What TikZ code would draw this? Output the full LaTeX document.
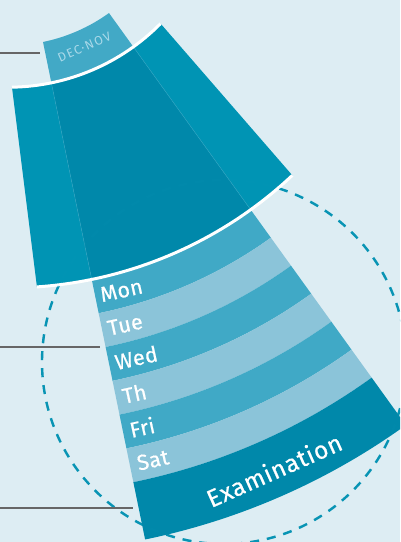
\documentclass[tikz,border=0pt]{standalone}
\usepackage{fontspec}
\setmainfont{Fira Sans}
\definecolor{bgc}{HTML}{DDEDF3}
\definecolor{fanside}{HTML}{0094B4}
\definecolor{fanmid}{HTML}{0088AA}
\definecolor{seam}{HTML}{2BA2C0}
\definecolor{bandmid}{HTML}{40A9C6}
\definecolor{bandlight}{HTML}{8BC4D9}
\definecolor{bandexam}{HTML}{0088AA}
\definecolor{tabc}{HTML}{42A9C6}
\definecolor{tabtext}{HTML}{A9D9E9}
\definecolor{dashc}{HTML}{0894B4}
\definecolor{greyc}{HTML}{666666}
\newcommand\annsector[4]{(-#1:#3pt) arc[start angle=-#1,end angle=-#2,radius=#3pt] -- (-#2:#4pt) arc[start angle=-#2,end angle=-#1,radius=#4pt] -- cycle}
\tikzset{
  daylab/.style={anchor=west,text=white,inner sep=0pt,font=\fontsize{21.5}{21.5}\selectfont\addfontfeatures{FakeBold=0.6,LetterSpace=2}},
  examlab/.style={text=white,inner sep=0pt,font=\fontsize{24.5}{24.5}\selectfont\addfontfeatures{FakeBold=0.6,LetterSpace=3}},
  tablab/.style={text=tabtext,inner sep=0pt,font=\fontsize{12.5}{12.5}\selectfont\addfontfeatures{LetterSpace=12}},
  dashcircle/.style={draw=dashc,line width=2.4pt,dash pattern=on 9pt off 8pt},
  greyline/.style={draw=greyc,line width=1.3pt},
  whitearc/.style={draw=white,line width=3pt},
  seamline/.style={draw=seam,line width=0.5pt}
}
\begin{document}
\begin{tikzpicture}[x=1pt,y=1pt]
\useasboundingbox (0,0) rectangle (400,-542);
\fill[bgc] (0,0) rectangle (400,-542);
\clip (0,0) rectangle (400,-542);
\coordinate (C2) at (8.4,126.6);
\coordinate (CC) at (224,-362);
% tab
\begin{scope}[shift={(C2)}]
\fill[tabc] \annsector{78.4}{54.23}{172.1}{220};
\end{scope}
% dashed circle underneath
\draw[dashcircle] (CC) circle[radius=182pt];
\begin{scope}[shift={(C2)}]
% week bands
\fill[bandmid]   \annsector{78.4}{54.23}{414.5}{449};
\fill[bandlight] \annsector{78.4}{54.23}{449}{483.5};
\fill[bandmid]   \annsector{78.4}{54.23}{483.5}{518};
\fill[bandlight] \annsector{78.4}{54.23}{518}{552.5};
\fill[bandmid]   \annsector{78.4}{54.23}{552.5}{587};
\fill[bandlight] \annsector{78.4}{54.23}{587}{621.5};
\fill[bandexam]  \annsector{78.4}{54.23}{621.5}{680};
% upper fan
\fill[fanside] (-89.04:213.8pt) arc[start angle=-89.04,end angle=-78.4,radius=213.8pt] -- (-78.4:414.5pt) arc[start angle=-78.4,end angle=-86.05,radius=414.5pt] -- cycle;
\fill[fanmid] \annsector{78.4}{54.23}{213.8}{414.5};
\fill[fanside] (-54.23:213.8pt) arc[start angle=-54.23,end angle=-44.62,radius=213.8pt] -- (-46.76:414.5pt) arc[start angle=-46.76,end angle=-54.23,radius=414.5pt] -- cycle;
\draw[seamline] (-78.4:213.8pt) -- (-78.4:414.5pt);
\draw[seamline] (-54.23:213.8pt) -- (-54.23:414.5pt);
% white arcs
\draw[whitearc] (-89.04:213.8pt) arc[start angle=-89.04,end angle=-44.62,radius=213.8pt];
\draw[whitearc] (-86.05:414.5pt) arc[start angle=-86.05,end angle=-46.76,radius=414.5pt];
\end{scope}
% faint overlay of the circle
\draw[dashcircle,draw opacity=0.15] (CC) circle[radius=182pt];
\begin{scope}[shift={(C2)}]
\node[tablab,rotate=23.6] (decnov) at (-66.4:189.5pt) {DEC·NOV};
\node[daylab,rotate=12.4] (mon) at (-77.7:431.7pt) {Mon};
\node[daylab,rotate=12.4] (tue) at (-77.7:466pt) {Tue};
\node[daylab,rotate=12.4] (wed) at (-77.7:500.5pt) {Wed};
\node[daylab,rotate=12.4] (th) at (-77.7:535pt) {Th};
\node[daylab,rotate=12.4] (fri) at (-77.7:569.5pt) {Fri};
\node[daylab,rotate=12.4] (sat) at (-77.7:604pt) {Sat};
\node[examlab,rotate=24] (exam) at (-66:653pt) {Examination};
\end{scope}
% grey leader lines
\coordinate (l1a) at (0,-53);   \coordinate (l1b) at (40,-53);
\coordinate (l2a) at (0,-347);  \coordinate (l2b) at (100,-347);
\coordinate (l3a) at (0,-508);  \coordinate (l3b) at (133,-508);
\draw[greyline] (l1a) -- (l1b);
\draw[greyline] (l2a) -- (l2b);
\draw[greyline] (l3a) -- (l3b);
\end{tikzpicture}
\end{document}
